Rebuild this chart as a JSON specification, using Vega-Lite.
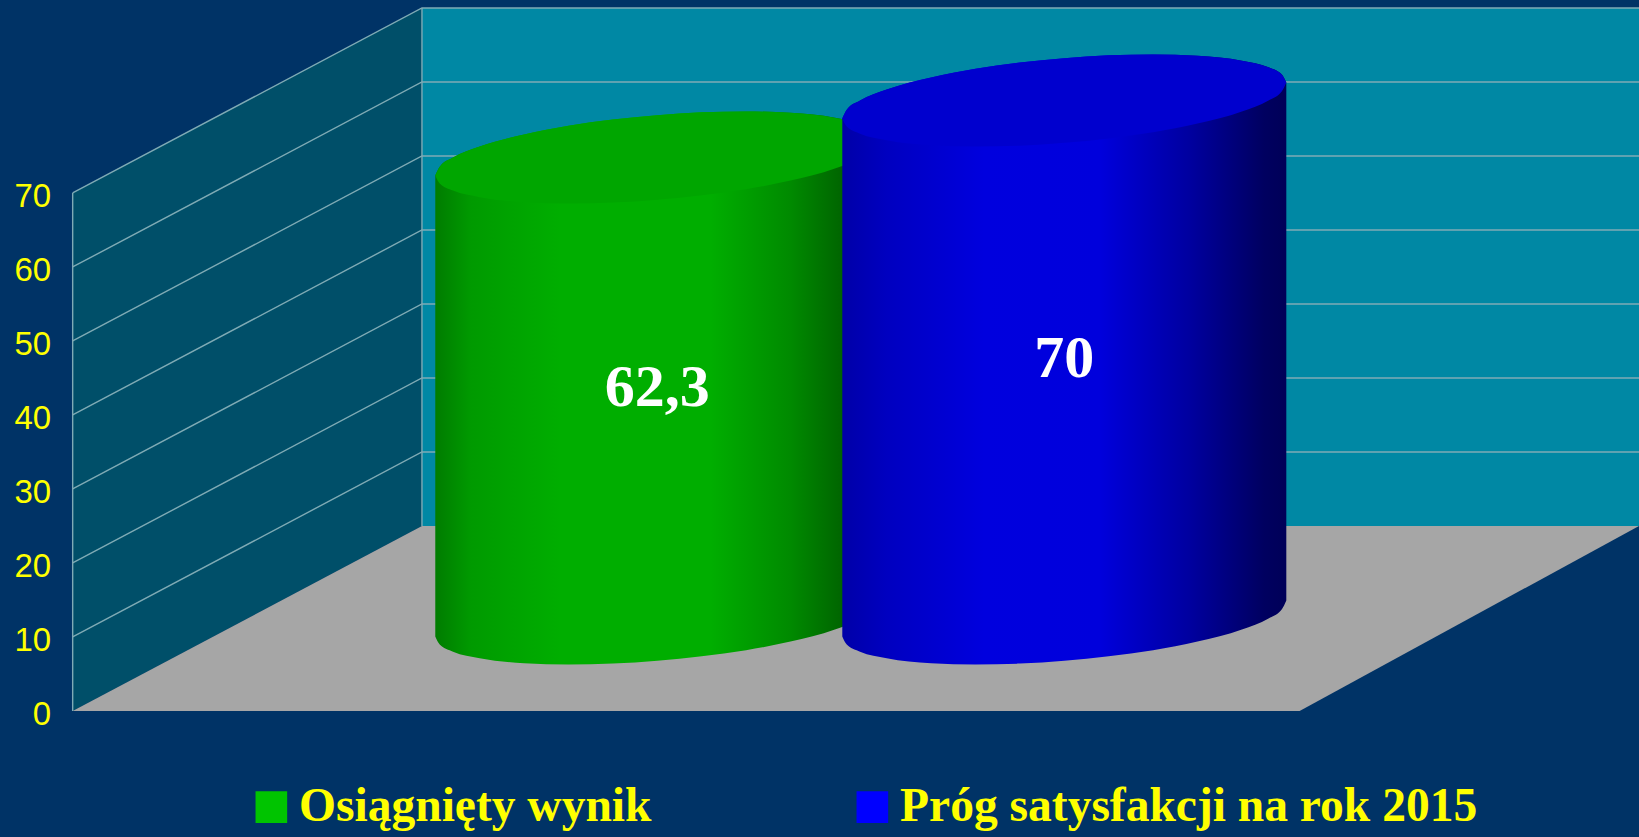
{
"$schema":"https://vega.github.io/schema/vega-lite/v6.json",
"width":1639,"height":837,"padding":0,"autosize":"none","background":"#003366",
"config":{"view":{"stroke":null}},
"datasets":{
"results":[{"series":"Osiągnięty wynik","value":62.3,"label":"62,3","x":79,"mid":43.65},{"series":"Próg satysfakcji na rok 2015","value":70,"label":"70","x":134,"mid":47.5}],
"room":[
{"part":"back","x":47.2,"y":95,"y2":25},{"part":"back","x":211.66,"y":95,"y2":25},
{"part":"side","x":0,"y":70,"y2":0},{"part":"side","x":47.2,"y":95,"y2":25},
{"part":"floor","x":0,"y":0,"y2":0},{"part":"floor","x":47.2,"y":25,"y2":0},{"part":"floor","x":165.8,"y":25,"y2":0},{"part":"floor","x":211.66,"y":25,"y2":25}],
"grid":[
{"tick":"10","x":0,"y":10},{"tick":"10","x":47.2,"y":35},{"tick":"10","x":211.66,"y":35},
{"tick":"20","x":0,"y":20},{"tick":"20","x":47.2,"y":45},{"tick":"20","x":211.66,"y":45},
{"tick":"30","x":0,"y":30},{"tick":"30","x":47.2,"y":55},{"tick":"30","x":211.66,"y":55},
{"tick":"40","x":0,"y":40},{"tick":"40","x":47.2,"y":65},{"tick":"40","x":211.66,"y":65},
{"tick":"50","x":0,"y":50},{"tick":"50","x":47.2,"y":75},{"tick":"50","x":211.66,"y":75},
{"tick":"60","x":0,"y":60},{"tick":"60","x":47.2,"y":85},{"tick":"60","x":211.66,"y":85},
{"tick":"70","x":0,"y":70},{"tick":"70","x":47.2,"y":95},{"tick":"70","x":211.66,"y":95},
{"tick":"front","x":0,"y":0},{"tick":"front","x":0,"y":70},
{"tick":"back","x":47.2,"y":25},{"tick":"back","x":47.2,"y":95}],
"green":[
{"x":49,"up":72.37,"low":72.37,"base":10.07},{"x":49.6,"up":73.56,"low":71.28,"base":8.98},{"x":51.4,"up":74.8,"low":70.32,"base":8.02},{"x":55,"up":76.29,"low":69.43,"base":7.13},{"x":61,"up":77.92,"low":68.76,"base":6.46},{"x":67,"up":79.08,"low":68.58,"base":6.28},{"x":73,"up":79.92,"low":68.7,"base":6.4},{"x":79,"up":80.52,"low":69.08,"base":6.78},{"x":85,"up":80.9,"low":69.68,"base":7.38},{"x":91,"up":81.02,"low":70.52,"base":8.22},{"x":97,"up":80.84,"low":71.68,"base":9.38},{"x":103,"up":80.17,"low":73.31,"base":11.01},{"x":106.6,"up":79.28,"low":74.8,"base":12.5},{"x":108.4,"up":78.32,"low":76.04,"base":13.74},{"x":109,"up":77.23,"low":77.23,"base":14.93}],
"blue":[
{"x":104,"up":80.07,"low":80.07,"base":10.07},{"x":104.6,"up":81.26,"low":78.98,"base":8.98},{"x":106.4,"up":82.5,"low":78.02,"base":8.02},{"x":110,"up":83.99,"low":77.13,"base":7.13},{"x":116,"up":85.62,"low":76.46,"base":6.46},{"x":122,"up":86.78,"low":76.28,"base":6.28},{"x":128,"up":87.62,"low":76.4,"base":6.4},{"x":134,"up":88.22,"low":76.78,"base":6.78},{"x":140,"up":88.6,"low":77.38,"base":7.38},{"x":146,"up":88.72,"low":78.22,"base":8.22},{"x":152,"up":88.54,"low":79.38,"base":9.38},{"x":158,"up":87.87,"low":81.01,"base":11.01},{"x":161.6,"up":86.98,"low":82.5,"base":12.5},{"x":163.4,"up":86.02,"low":83.74,"base":13.74},{"x":164,"up":84.93,"low":84.93,"base":14.93}]
},
"encoding":{
"x":{"field":"x","type":"quantitative","scale":{"domain":[-9.82,211.66],"nice":false,"zero":false},"axis":null}
},
"layer":[
{"data":{"name":"room"},"transform":[{"filter":"datum.part=='back'"}],"mark":{"type":"area","color":"#0088A4","orient":"vertical"},
"encoding":{"y":{"field":"y","type":"quantitative","scale":{"domain":[-17.03,96.08],"nice":false,"zero":false},
"axis":{"values":[0,10,20,30,40,50,60,70],"title":null,"domain":false,"ticks":false,"grid":false,"offset":-72.7,"labelPadding":22,"labelOffset":4,"labelColor":"#FFFF00","labelFont":"Liberation Sans","labelFontSize":33}},"y2":{"field":"y2"}}},
{"data":{"name":"room"},"transform":[{"filter":"datum.part=='side'"}],"mark":{"type":"area","color":"#004F69","orient":"vertical"},
"encoding":{"y":{"field":"y","type":"quantitative"},"y2":{"field":"y2"}}},
{"data":{"name":"room"},"transform":[{"filter":"datum.part=='floor'"}],"mark":{"type":"area","color":"#A6A6A6","orient":"vertical"},
"encoding":{"y":{"field":"y","type":"quantitative"},"y2":{"field":"y2"}}},
{"data":{"name":"grid"},"mark":{"type":"line","color":"#7FABB5","strokeWidth":1.4},
"encoding":{"y":{"field":"y","type":"quantitative"},"detail":{"field":"tick"},"order":{"field":"x"}}},
{"data":{"name":"green"},"mark":{"type":"area","orient":"vertical","interpolate":"monotone","color":{"gradient":"linear","x1":0,"x2":1,"y1":0,"y2":0,"stops":[{"offset":0,"color":"#007C00"},{"offset":0.08,"color":"#009A00"},{"offset":0.28,"color":"#00AE00"},{"offset":0.62,"color":"#00AE00"},{"offset":0.8,"color":"#008A00"},{"offset":1,"color":"#004A00"}]}},
"encoding":{"y":{"field":"up","type":"quantitative"},"y2":{"field":"base"}}},
{"data":{"name":"green"},"mark":{"type":"area","orient":"vertical","interpolate":"monotone","color":"#00A600"},
"encoding":{"y":{"field":"up","type":"quantitative"},"y2":{"field":"low"}}},
{"data":{"name":"blue"},"mark":{"type":"area","orient":"vertical","interpolate":"monotone","color":{"gradient":"linear","x1":0,"x2":1,"y1":0,"y2":0,"stops":[{"offset":0,"color":"#0000A8"},{"offset":0.1,"color":"#0000C0"},{"offset":0.32,"color":"#0000DE"},{"offset":0.58,"color":"#0000DC"},{"offset":0.78,"color":"#0000A0"},{"offset":0.95,"color":"#000060"},{"offset":1,"color":"#000058"}]}},
"encoding":{"y":{"field":"up","type":"quantitative"},"y2":{"field":"base"}}},
{"data":{"name":"blue"},"mark":{"type":"area","orient":"vertical","interpolate":"monotone","color":"#0000CE"},
"encoding":{"y":{"field":"up","type":"quantitative"},"y2":{"field":"low"}}},
{"data":{"name":"results"},"mark":{"type":"square","opacity":0,"size":1},
"encoding":{"y":{"field":"mid","type":"quantitative"},
"color":{"field":"series","type":"nominal","scale":{"domain":["Osiągnięty wynik","Próg satysfakcji na rok 2015"],"range":["#00C400","#0000FF"]},
"legend":{"title":null,"orient":"none","legendX":247.6,"legendY":783,"direction":"horizontal","columns":2,"symbolType":"square","symbolSize":1000,"symbolOpacity":1,"symbolStrokeWidth":0,"labelFont":"Liberation Serif","labelFontWeight":"bold","labelFontSize":47.5,"labelColor":"#FFFF00","labelOffset":4,"labelLimit":1000,"columnPadding":197,"padding":0}}}},
{"data":{"name":"results"},"mark":{"type":"text","color":"#FFFFFF","font":"Liberation Serif","fontWeight":"bold","fontSize":60,"align":"center","baseline":"middle"},
"encoding":{"y":{"field":"mid","type":"quantitative"},"text":{"field":"label"}}}
]
}
